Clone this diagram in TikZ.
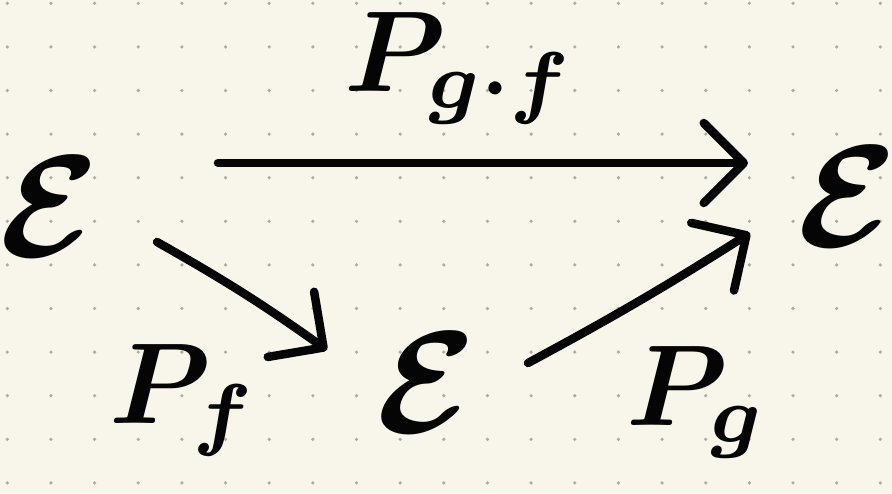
\documentclass[tikz,border=0pt]{standalone}
\usepackage{amsmath}
\usetikzlibrary{arrows.meta}
\definecolor{paper}{RGB}{248,246,235}
\definecolor{griddot}{RGB}{172,172,166}
\definecolor{ink}{RGB}{5,5,5}
\tikzset{
  obj/.style={inner sep=0pt, text=ink, scale=14.5, transform shape, font=\boldmath},
  lbl/.style={inner sep=0pt, text=ink, scale=11.5, transform shape, font=\boldmath},
  hand/.style={draw=ink, line width=8.5pt, line cap=round, line join=round,
    -{Straight Barb[length=40pt, width=80pt, line width=8.5pt, round]}},
}
\begin{document}
\begin{tikzpicture}[x=1pt, y=1pt]
  % paper with dot grid
  \fill[paper] (0,0) rectangle (892,-493);
  \useasboundingbox (0,0) rectangle (892,-493);
  \foreach \i in {0,...,20} {
    \foreach \j in {0,...,11} {
      \fill[griddot] ({7.3+43.65*\i}, {-3.3-43.6*\j}) circle (1.8);
    }
  }
  % objects
  \node[obj] (E1) at (50,-207) {$\mathcal{E}$};
  \node[obj] (E3) at (848,-197) {$\mathcal{E}$};
  \node[obj] (E2) at (427,-383) {$\mathcal{E}$};
  % labels
  \node[lbl] (Pgf) at (460,-68) {$P_{g\cdot f}$};
  \node[lbl] (Pf) at (184,-400) {$P_f$};
  \node[lbl] (Pg) at (697,-402) {$P_g$};
  % morphisms
  \draw[hand] ([shift={(168,44)}]E1.center) -- ([shift={(-100,34)}]E3.center);
  \draw[hand] ([shift={(107,-35)}]E1.center) to[bend left=3] ([shift={(-100,33)}]E2.center);
  \draw[hand] ([shift={(101,20)}]E2.center) to[bend right=2] ([shift={(-98,-36)}]E3.center);
\end{tikzpicture}
\end{document}
